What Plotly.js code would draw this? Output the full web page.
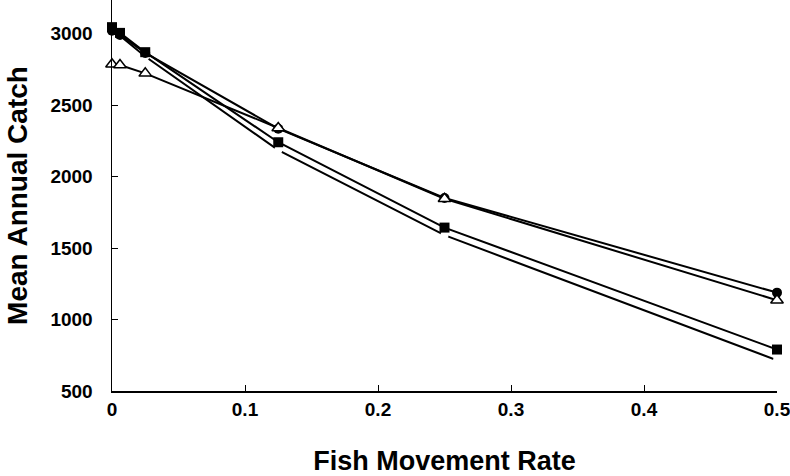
<!DOCTYPE html>
<html>
<head>
<meta charset="utf-8">
<script src="https://cdn.plot.ly/plotly-3.0.1.min.js"></script>
<style>html,body{margin:0;padding:0;background:#fff;}#chart{width:790px;height:476px;}</style>
</head>
<body>
<div id="chart"></div>
<script>
const movementRate = [0, 0.006, 0.025, 0.125, 0.25, 0.5];
const catchOpen = [3010, 2985, 2840, 2185, 1590, 715];
const catchSquare = [3045, 3005, 2870, 2240, 1643, 790];
const catchCircle = [3020, 2990, 2865, 2335, 1850, 1188];
const catchTriangle = [2785, 2780, 2722, 2340, 1845, 1135];
const xTicks = [0, 0.1, 0.2, 0.3, 0.4, 0.5];
const xTickText = ['0', '0.1', '0.2', '0.3', '0.4', '0.5'];
const yTicks = [500, 1000, 1500, 2000, 2500, 3000];

const lineStyle = {color: '#000', width: 2};
const traces = [
  {x: movementRate, y: catchOpen, mode: 'lines+markers', line: lineStyle,
   marker: {symbol: 'circle', size: 8, color: '#fff', line: {width: 0}}, cliponaxis: false},
  {x: movementRate, y: catchSquare, mode: 'lines+markers', line: lineStyle,
   marker: {symbol: 'square', size: 10, color: '#000'}, cliponaxis: false},
  {x: movementRate, y: catchCircle, mode: 'lines+markers', line: lineStyle,
   marker: {symbol: 'circle', size: 10, color: '#000'}, cliponaxis: false},
  {x: movementRate, y: catchTriangle, mode: 'lines+markers', line: lineStyle,
   marker: {symbol: 'triangle-up', size: 11, color: '#fff', line: {color: '#000', width: 1.5}}, cliponaxis: false}
];

const fontFam = 'Liberation Sans, Arial, Helvetica, sans-serif';
const layout = {
  width: 790, height: 476,
  margin: {l: 112, r: 13, t: 0, b: 85},
  paper_bgcolor: '#fff', plot_bgcolor: '#fff',
  showlegend: false,
  font: {family: fontFam, color: '#000'},
  xaxis: {
    range: [0, 0.5], tickvals: xTicks, ticktext: xTickText,
    showgrid: false, zeroline: false, showline: true, linecolor: '#000', linewidth: 1.5,
    ticks: 'inside', ticklen: 6, tickwidth: 1, tickcolor: '#000',
    tickfont: {size: 19, family: fontFam, weight: 'bold'},
    ticklabelstandoff: 1, ticklabeloverflow: 'allow',
    title: {text: '<b>Fish Movement Rate</b>', font: {size: 27, family: fontFam}, standoff: 32}
  },
  yaxis: {
    range: [500, 3235], tickvals: yTicks,
    showgrid: false, zeroline: false, showline: true, linecolor: '#000', linewidth: 1.5,
    ticks: 'inside', ticklen: 6, tickwidth: 1, tickcolor: '#000',
    tickfont: {size: 19, family: fontFam, weight: 'bold'},
    ticklabelstandoff: 14, ticklabeloverflow: 'allow',
    title: {text: '<b>Mean Annual Catch</b>', font: {size: 28, family: fontFam}, standoff: 14}
  }
};
Plotly.newPlot('chart', traces, layout, {displayModeBar: false, staticPlot: true});
</script>
</body>
</html>
